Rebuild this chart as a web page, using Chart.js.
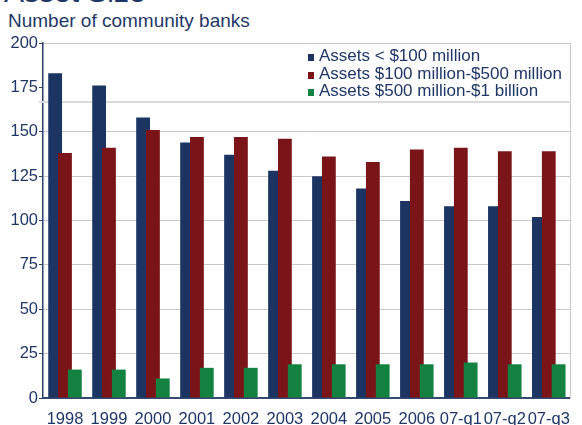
<!DOCTYPE html>
<html>
<head>
<meta charset="utf-8">
<script src="https://cdn.jsdelivr.net/npm/chart.js@4.4.0/dist/chart.umd.min.js"></script>
<style>
  body { margin: 0; background: #fff; }
  #wrap { position: relative; width: 582px; height: 425px; overflow: hidden;
          font-family: "Liberation Sans", Arial, sans-serif; color: #1e3766; }
  #title { position: absolute; left: 4px; top: -23px; margin: 0; font-size: 30px;
           line-height: 30px; font-weight: normal; white-space: nowrap; }
  #sub { position: absolute; left: 8px; top: 11px; font-size: 19px; line-height: 19px; white-space: nowrap; }
  #legend { position: absolute; left: 308px; top: 47px; font-size: 17px; line-height: 17.5px; white-space: nowrap; }
  #legend .sw { display: inline-block; width: 6px; height: 7px; margin-right: 5px; }
  canvas { position: absolute; left: 0; top: 0; }
</style>
</head>
<body>
<div id="wrap">
  <h1 id="title">Asset Size</h1>
  <div id="sub">Number of community banks</div>
  <canvas id="chart" width="582" height="425"></canvas>
  <div id="legend"></div>
</div>
<script>
const categories = ['1998', '1999', '2000', '2001', '2002', '2003', '2004', '2005', '2006', '07-q1', '07-q2', '07-q3'];
const under100m = [183, 176, 158, 144, 137, 128, 125, 118, 111, 108, 108, 102];
const from100to500m = [138, 141, 151, 147, 147, 146, 136, 133, 140, 141, 139, 139];
const from500mto1b = [16, 16, 11, 17, 17, 19, 19, 19, 19, 20, 19, 19];
const seriesNames = ['Assets < $100 million', 'Assets $100 million-$500 million', 'Assets $500 million-$1 billion'];
const seriesColors = ['#1b3461', '#7b1418', '#138140'];
const yTicks = [0, 25, 50, 75, 100, 125, 150, 175, 200];
// the original draws its 175 gridline a bit low, at about this value
const shiftedGridValue = 167;

const textColor = '#1e3766';
const font = { family: '"Liberation Sans", Arial, sans-serif', size: 16.5 };

// legend
let legendHtml = '';
for (let i = 0; i < seriesNames.length; i++) {
  legendHtml += '<div><span class="sw" style="background:' + seriesColors[i] + '"></span>' +
    seriesNames[i].replace('<', '&lt;') + '</div>';
}
document.getElementById('legend').innerHTML = legendHtml;

const shiftedGrid = {
  id: 'shiftedGrid',
  beforeDatasetsDraw(chart) {
    const { ctx, chartArea, scales } = chart;
    const y = scales.y;
    const py = Math.round(y.getPixelForValue(shiftedGridValue));
    ctx.save();
    ctx.strokeStyle = '#dadada';
    ctx.lineWidth = 2;
    ctx.beginPath();
    ctx.moveTo(chartArea.left - 4, py);
    ctx.lineTo(chartArea.right, py);
    ctx.stroke();
    ctx.restore();
  }
};

// bars overlap: draw first dataset first so the later ones sit on top
const drawInOrder = {
  id: 'drawInOrder',
  beforeDatasetDraw() {
    return false;
  },
  afterDatasetsDraw(chart) {
    for (let i = 0; i < chart.data.datasets.length; i++) {
      chart.getDatasetMeta(i).controller.draw();
    }
  }
};

let ctx = document.getElementById('chart').getContext('2d');
new Chart(ctx, {
  type: 'bar',
  data: {
    labels: categories,
    datasets: [
      { label: seriesNames[0], data: under100m, backgroundColor: seriesColors[0] },
      { label: seriesNames[1], data: from100to500m, backgroundColor: seriesColors[1] },
      { label: seriesNames[2], data: from500mto1b, backgroundColor: seriesColors[2] }
    ]
  },
  options: {
    responsive: false,
    animation: false,
    categoryPercentage: 0.672,
    barPercentage: 1.4,
    layout: { padding: { top: 43, right: 3, left: 0, bottom: 0 } },
    plugins: {
      legend: { display: false },
      tooltip: { enabled: false }
    },
    scales: {
      x: {
        grid: { display: false, drawTicks: false },
        border: { color: '#34496f', width: 2 },
        ticks: { color: textColor, font: font, padding: 12, maxRotation: 0, autoSkip: false },
        afterFit: (s) => { s.height = 27; }
      },
      y: {
        min: 0,
        max: 200,
        afterBuildTicks: (s) => { s.ticks = yTicks.map((v) => ({ value: v })); },
        afterFit: (s) => { s.width = 43; },
        grid: {
          color: (c) => (c.tick && c.tick.value === 175) ? 'rgba(0,0,0,0)' : '#c9c9c9',
          tickColor: '#2b416d',
          tickLength: 4,
          lineWidth: 1
        },
        border: { color: '#2b416d', width: 1.5 },
        ticks: { color: textColor, font: font, padding: 1 }
      },
      yRight: {
        position: 'right',
        min: 0,
        max: 200,
        grid: { display: false, drawTicks: false },
        ticks: { display: false },
        border: { color: '#c9c9c9', width: 1 },
        afterFit: (s) => { s.width = 0; }
      }
    }
  },
  plugins: [shiftedGrid, drawInOrder]
});
</script>
</body>
</html>
